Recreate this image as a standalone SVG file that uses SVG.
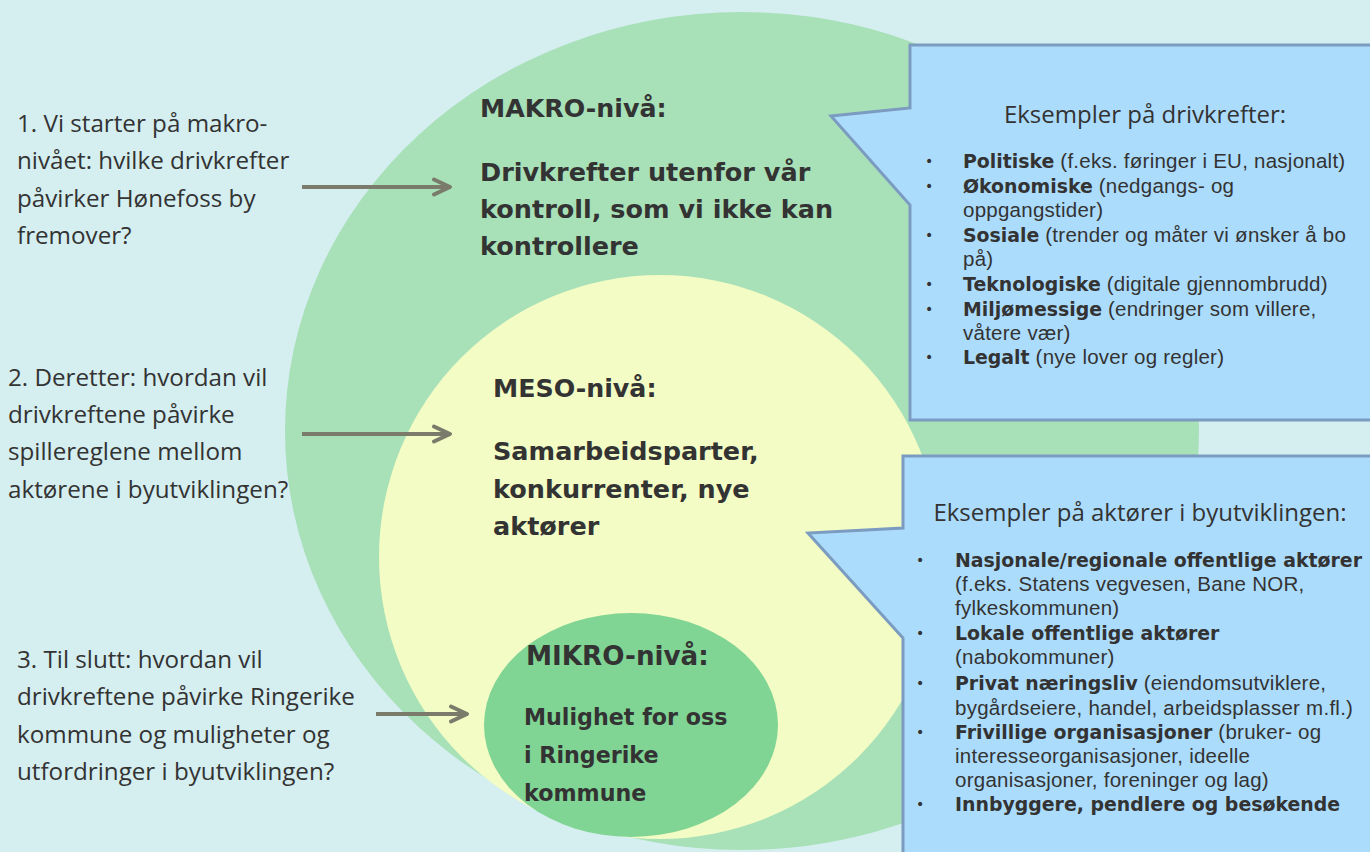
<svg xmlns="http://www.w3.org/2000/svg" width="1370" height="852" viewBox="0 0 1370 852">
<defs>
<style>
.bg{fill:#d5eef0}
.lvl{font-family:"DejaVu Sans",Verdana,sans-serif;font-weight:bold;fill:#333333}
.step{font-family:"Open Sans","Liberation Sans",sans-serif;font-size:24.2px;fill:#333333}
.co{fill:#acdcfc;stroke:#7b9cc0;stroke-width:3;stroke-linejoin:miter}
.coh{font-family:"Open Sans","Liberation Sans",sans-serif;font-size:24px;fill:#333333;text-anchor:middle}
.cot{font-family:"Liberation Sans",Arial,sans-serif;font-size:20.5px;letter-spacing:0.25px;fill:#333333}
.b{font-family:"DejaVu Sans",Verdana,sans-serif;font-weight:bold;font-size:18.9px;letter-spacing:0}
.bul{font-family:"DejaVu Sans",sans-serif;font-size:14px;fill:#333333}
.arrow{stroke:#7b7b6b;stroke-width:4;fill:none}
</style>
<marker id="arr" markerUnits="userSpaceOnUse" markerWidth="26" markerHeight="24" refX="17" refY="10" orient="auto">
<path d="M2,2.5 L18,10 L2,17.5" fill="none" stroke="#7b7b6b" stroke-width="4" stroke-linecap="round" stroke-linejoin="round"/>
</marker>
</defs>
<rect class="bg" x="0" y="0" width="1370" height="852"/>

<g id="makro">
<ellipse cx="742" cy="431" rx="457" ry="419" fill="#a8e0b8"/>
<text class="lvl" x="480" y="117" font-size="25.3">MAKRO-nivå:</text>
<text class="lvl" font-size="25.5"><tspan x="480" y="181">Drivkrefter utenfor vår</tspan><tspan x="480" y="218">kontroll, som vi ikke kan</tspan><tspan x="480" y="255">kontrollere</tspan></text>
</g>

<g id="meso">
<ellipse cx="660" cy="557" rx="281" ry="282" fill="#f2fcc4"/>
<text class="lvl" x="493" y="397" font-size="25.3">MESO-nivå:</text>
<text class="lvl" font-size="25.5"><tspan x="493" y="460">Samarbeidsparter,</tspan><tspan x="493" y="498">konkurrenter, nye</tspan><tspan x="493" y="535">aktører</tspan></text>
</g>

<g id="mikro">
<ellipse cx="631" cy="725" rx="147" ry="112" fill="#80d494"/>
<text class="lvl" x="526" y="665" font-size="26.2">MIKRO-nivå:</text>
<text class="lvl" font-size="22.2"><tspan x="524" y="725">Mulighet for oss</tspan><tspan x="524" y="763">i Ringerike</tspan><tspan x="524" y="801">kommune</tspan></text>
</g>

<g id="callout-drivkrefter">
<path class="co" d="M910,45 H1380 V420 H910 V205 L831,116 L910,108 Z"/>
<text class="coh" x="1145" y="123">Eksempler på drivkrefter:</text>
<g class="bul"><text x="925" y="166">•</text><text x="925" y="191">•</text><text x="925" y="240">•</text><text x="925" y="289">•</text><text x="925" y="314">•</text><text x="925" y="362">•</text></g>
<text class="cot"><tspan x="963" y="168"><tspan class="b">Politiske</tspan> (f.eks. føringer i EU, nasjonalt)</tspan><tspan x="963" y="193"><tspan class="b">Økonomiske</tspan> (nedgangs- og</tspan><tspan x="963" y="217">oppgangstider)</tspan><tspan x="963" y="242"><tspan class="b">Sosiale</tspan> (trender og måter vi ønsker å bo</tspan><tspan x="963" y="266">på)</tspan><tspan x="963" y="291"><tspan class="b">Teknologiske</tspan> (digitale gjennombrudd)</tspan><tspan x="963" y="316"><tspan class="b">Miljømessige</tspan> (endringer som villere,</tspan><tspan x="963" y="340">våtere vær)</tspan><tspan x="963" y="364"><tspan class="b">Legalt</tspan> (nye lover og regler)</tspan></text>
</g>

<g id="callout-aktorer">
<path class="co" d="M903,456 H1380 V870 H903 V638 L808,533 L903,528 Z"/>
<text class="coh" x="1140" y="521">Eksempler på aktører i byutviklingen:</text>
<g class="bul"><text x="916" y="565">•</text><text x="916" y="638">•</text><text x="916" y="688">•</text><text x="916" y="737">•</text><text x="916" y="809">•</text></g>
<text class="cot"><tspan x="955" y="567" class="b">Nasjonale/regionale offentlige aktører</tspan><tspan x="955" y="591">(f.eks. Statens vegvesen, Bane NOR,</tspan><tspan x="955" y="615">fylkeskommunen)</tspan><tspan x="955" y="640" class="b">Lokale offentlige aktører</tspan><tspan x="955" y="664">(nabokommuner)</tspan><tspan x="955" y="690"><tspan class="b">Privat næringsliv</tspan> (eiendomsutviklere,</tspan><tspan x="955" y="715">bygårdseiere, handel, arbeidsplasser m.fl.)</tspan><tspan x="955" y="739"><tspan class="b">Frivillige organisasjoner</tspan> (bruker- og</tspan><tspan x="955" y="763">interesseorganisasjoner, ideelle</tspan><tspan x="955" y="787">organisasjoner, foreninger og lag)</tspan><tspan x="955" y="811" class="b">Innbyggere, pendlere og besøkende</tspan></text>
</g>

<g id="step1">
<text class="step"><tspan x="17" y="132">1. Vi starter på makro-</tspan><tspan x="17" y="169">nivået: hvilke drivkrefter</tspan><tspan x="17" y="207">påvirker Hønefoss by</tspan><tspan x="17" y="244">fremover?</tspan></text>
</g>
<g id="step2">
<text class="step"><tspan x="8" y="386">2. Deretter:  hvordan vil</tspan><tspan x="8" y="423">drivkreftene påvirke</tspan><tspan x="8" y="460">spillereglene mellom</tspan><tspan x="8" y="498">aktørene i byutviklingen?</tspan></text>
</g>
<g id="step3">
<text class="step"><tspan x="17" y="668">3. Til slutt: hvordan vil</tspan><tspan x="17" y="705">drivkreftene påvirke Ringerike</tspan><tspan x="17" y="743">kommune og muligheter og</tspan><tspan x="17" y="780">utfordringer i byutviklingen?</tspan></text>
</g>

<g id="connectors">
<line class="arrow" x1="302" y1="187" x2="449" y2="187" marker-end="url(#arr)"/>
<line class="arrow" x1="302" y1="434" x2="449" y2="434" marker-end="url(#arr)"/>
<line class="arrow" x1="376" y1="714" x2="466" y2="714" marker-end="url(#arr)"/>
</g>
</svg>
